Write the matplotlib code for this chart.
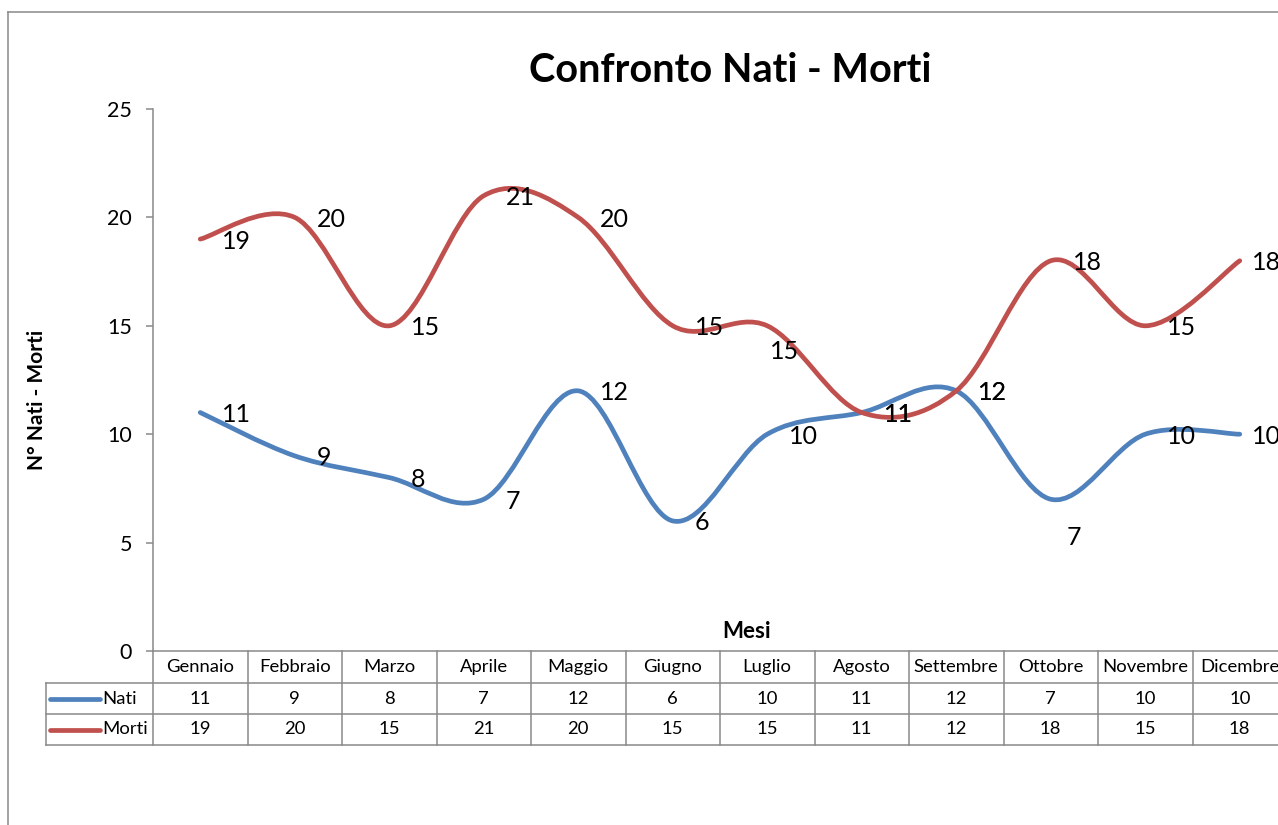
import numpy as np
import matplotlib
matplotlib.use('Agg')
import matplotlib.pyplot as plt
from matplotlib.path import Path
from matplotlib.patches import PathPatch
from matplotlib.lines import Line2D
import matplotlib.transforms as mtransforms

plt.rcParams['font.family'] = ['Lato', 'DejaVu Sans']

# dati
mesi = ['Gennaio', 'Febbraio', 'Marzo', 'Aprile', 'Maggio', 'Giugno',
        'Luglio', 'Agosto', 'Settembre', 'Ottobre', 'Novembre', 'Dicembre']
nati = [11, 9, 8, 7, 12, 6, 10, 11, 12, 7, 10, 10]
morti = [19, 20, 15, 21, 20, 15, 15, 11, 12, 18, 15, 18]

serie = [('Nati', nati, '#4F81BD'), ('Morti', morti, '#C0504D')]
grigio = '#898989'

# spostamenti etichette (pixel) diversi dal default
spost = {('Morti', 6): (3, -26), ('Nati', 9): (16, -38),
         ('Morti', 11): (12, -2), ('Nati', 11): (12, -2)}


def curva(xs, ys):
    # linea smussata tipo Excel (Catmull-Rom -> Bezier)
    p = np.column_stack([xs, ys]).astype(float)
    n = len(p)
    verts = [p[0]]
    codes = [Path.MOVETO]
    for i in range(n - 1):
        p0 = p[max(i - 1, 0)]
        p1 = p[i]
        p2 = p[i + 1]
        p3 = p[min(i + 2, n - 1)]
        verts += [p1 + (p2 - p0) / 6, p2 - (p3 - p1) / 6, p2]
        codes += [Path.CURVE4] * 3
    return Path(verts, codes)


W, H = 1278, 825
fig = plt.figure(figsize=(W / 100, H / 100), dpi=100)
colw = 94.5
ax = fig.add_axes([153 / W, 1 - 651 / H, 12 * colw / W, 542 / H])

x = np.arange(len(mesi))
for nome, vals, col in serie:
    ax.add_patch(PathPatch(curva(x, vals), fill=False, edgecolor=col, lw=3.4,
                           capstyle='round', joinstyle='round', zorder=3))
    for i, v in enumerate(vals):
        dx, dy = spost.get((nome, i), (22, -2))
        ax.annotate(str(v), (i, v), xytext=(dx, dy), textcoords='offset pixels',
                    ha='left', va='center', fontsize=18, zorder=4,
                    annotation_clip=False)

ax.set_xlim(-0.5, len(mesi) - 0.5)
ax.set_ylim(0, 25)
ax.set_yticks(range(0, 26, 5))
ax.set_xticks([])
ax.tick_params(axis='y', direction='out', length=5, width=1.1, color=grigio,
               labelsize=15.5, pad=10)
for s in ['top', 'right']:
    ax.spines[s].set_visible(False)
for s in ['left', 'bottom']:
    ax.spines[s].set_color(grigio)
    ax.spines[s].set_linewidth(1.1)

# tabella dati sotto il grafico
tr = mtransforms.blended_transform_factory(ax.transData, ax.transAxes)
px = 1 / 542
y_righe = [0, -32 * px, -63 * px, -94 * px]
x_leg = -0.5 - (153 - 46) / colw
x_fine = len(mesi) - 0.5
for yy in y_righe[1:]:
    ax.add_line(Line2D([x_leg, x_fine], [yy, yy], transform=tr, color=grigio,
                       lw=1.1, clip_on=False))
for i in range(len(mesi) + 1):
    ax.add_line(Line2D([i - 0.5, i - 0.5], [0, y_righe[-1]], transform=tr,
                       color=grigio, lw=1.1, clip_on=False))
ax.add_line(Line2D([x_leg, x_leg], [y_righe[1], y_righe[-1]], transform=tr,
                   color=grigio, lw=1.1, clip_on=False))

for i, m in enumerate(mesi):
    ax.text(i, (y_righe[0] + y_righe[1]) / 2, m, transform=tr, ha='center',
            va='center', fontsize=13.3, clip_on=False)
for r, (nome, vals, col) in enumerate(serie):
    yc = (y_righe[r + 1] + y_righe[r + 2]) / 2
    ax.add_line(Line2D([-0.5 - 103 / colw, -0.5 - 53 / colw], [yc, yc],
                       transform=tr, color=col, lw=3.4, solid_capstyle='round',
                       clip_on=False))
    ax.text(-0.5 - 51 / colw, yc, nome, transform=tr, ha='left', va='center',
            fontsize=13.3, clip_on=False)
    for i, v in enumerate(vals):
        ax.text(i, yc, str(v), transform=tr, ha='center', va='center',
                fontsize=13.3, clip_on=False)

fig.text(730 / W, 1 - 70 / H, 'Confronto Nati - Morti', ha='center',
         va='center', fontsize=28.5, fontweight='bold')
fig.text(37 / W, 1 - 400 / H, 'N° Nati - Morti', ha='center', va='center',
         rotation=90, fontsize=15, fontweight='bold')
fig.text(747 / W, 1 - 632 / H, 'Mesi', ha='center', va='center',
         fontsize=16, fontweight='bold')

# bordo area grafico
fig.add_artist(Line2D([8 / W, 8 / W], [0, 1 - 12 / H], color=grigio, lw=1.1))
fig.add_artist(Line2D([8 / W, 1], [1 - 12 / H, 1 - 12 / H], color=grigio, lw=1.1))

fig.savefig('out.png', dpi=100)
